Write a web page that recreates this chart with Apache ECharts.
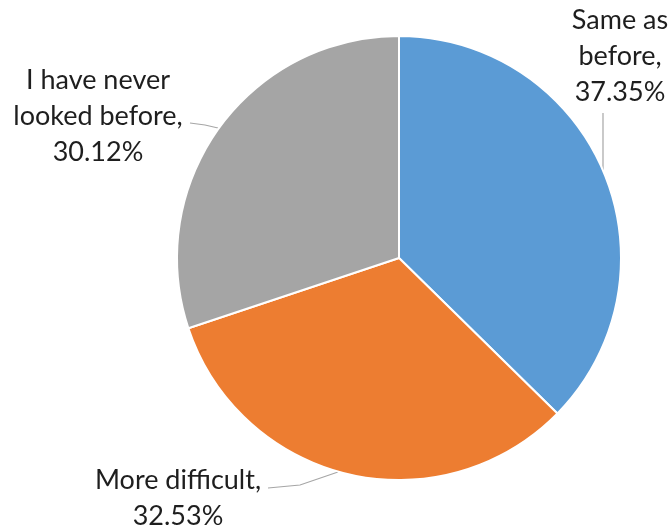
<!DOCTYPE html>
<html>
<head>
<meta charset="utf-8">
<script src="https://cdn.jsdelivr.net/npm/echarts@6/dist/echarts.min.js"></script>
<style>html,body{margin:0;padding:0;background:#fff}#c{width:672px;height:527px}</style>
</head>
<body>
<div id="c"></div>
<script>
const categories = ['Same as before', 'More difficult', 'I have never looked before'];
const values = [37.35, 32.53, 30.12];
const labelText = ['Same as\nbefore,', 'More difficult,', 'I have never\nlooked before,'];
const colors = ['#5B9BD5', '#ED7D31', '#A5A5A5'];
const labelPos = [
  {x: 620, y: 56, line: [[603, 170], [603, 113], [603, 113]]},
  {x: 178, y: 498, line: [[338, 472], [300, 485], [268, 488]]},
  {x: 98, y: 116, line: [[218, 128], [205, 125], [190, 123]]}
];

const chart = echarts.init(document.getElementById('c'), null, {renderer: 'canvas'});
chart.setOption({
  animation: false,
  series: [{
    type: 'pie',
    center: [399, 258],
    radius: [0, 222],
    startAngle: 90,
    clockwise: true,
    data: categories.map((n, i) => ({name: n, value: values[i], itemStyle: {color: colors[i]}})),
    itemStyle: {borderColor: '#fff', borderWidth: 2},
    label: {
      show: true,
      position: 'outside',
      overflow: 'none',
      formatter: p => labelText[p.dataIndex] + '\n' + values[p.dataIndex].toFixed(2) + '%',
      fontFamily: 'Lato, "Open Sans", sans-serif',
      fontSize: 27,
      lineHeight: 36,
      color: '#1e1e1e',
      align: 'center'
    },
    labelLine: {show: true, lineStyle: {color: '#a6a6a6', width: 1.2}},
    labelLayout: p => ({
      x: labelPos[p.dataIndex].x,
      y: labelPos[p.dataIndex].y,
      align: 'center',
      verticalAlign: 'middle',
      labelLinePoints: labelPos[p.dataIndex].line
    })
  }]
});
</script>
</body>
</html>
